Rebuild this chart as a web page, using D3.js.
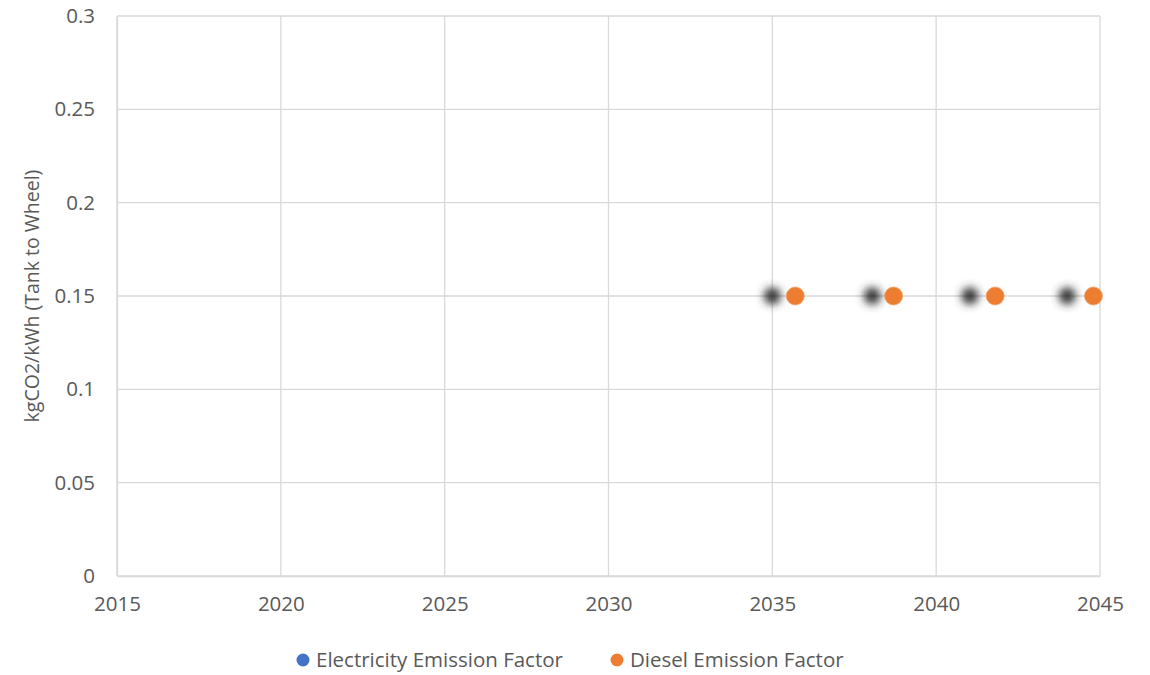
<!DOCTYPE html>
<html>
<head>
<meta charset="utf-8">
<script src="https://cdn.jsdelivr.net/npm/d3@7"></script>
<style>
  body { margin: 0; background: #fff; }
  text { font-family: "Open Sans", sans-serif; fill: #595959; }
</style>
</head>
<body>
<div id="chart"></div>
<script>
// emission factors scatter
var seriesNames = ["Electricity Emission Factor", "Diesel Emission Factor"];
var electricityYears = [2035, 2038.05, 2041.03, 2044];
var electricityValues = [0.15, 0.15, 0.15, 0.15];
var dieselYears = [2035.7, 2038.7, 2041.8, 2044.8];
var dieselValues = [0.15, 0.15, 0.15, 0.15];
var xTicks = [2015, 2020, 2025, 2030, 2035, 2040, 2045];
var yTicks = [0, 0.05, 0.1, 0.15, 0.2, 0.25, 0.3];

var width = 1150, height = 675;
var margin = {top: 16, right: 50, bottom: 99, left: 117};

var svg = d3.select("#chart").append("svg")
	.attr("width", width)
	.attr("height", height);

var defs = svg.append("defs");
defs.append("filter")
	.attr("id", "blur")
	.attr("x", "-100%").attr("y", "-100%")
	.attr("width", "300%").attr("height", "300%")
	.append("feGaussianBlur")
	.attr("stdDeviation", 4.5);

var x = d3.scaleLinear().domain([2015, 2045]).range([margin.left, width - margin.right]);
var y = d3.scaleLinear().domain([0, 0.3]).range([height - margin.bottom, margin.top]);

// gridlines
svg.append("g")
	.selectAll("line.h")
	.data(yTicks)
	.enter().append("line")
	.attr("x1", x(2015)).attr("x2", x(2045))
	.attr("y1", d => y(d)).attr("y2", d => y(d))
	.attr("stroke", "#d9d9d9").attr("stroke-width", 1.3);

svg.append("g")
	.selectAll("line.v")
	.data(xTicks)
	.enter().append("line")
	.attr("x1", d => x(d)).attr("x2", d => x(d))
	.attr("y1", y(0)).attr("y2", y(0.3))
	.attr("stroke", "#d9d9d9").attr("stroke-width", 1.3);

// axes
var xAxis = svg.append("g")
	.attr("transform", "translate(0," + y(0) + ")")
	.call(d3.axisBottom(x).tickValues(xTicks).tickFormat(d3.format("d")).tickSize(0).tickPadding(20));
var yAxis = svg.append("g")
	.attr("transform", "translate(" + x(2015) + ",0)")
	.call(d3.axisLeft(y).tickValues(yTicks).tickFormat(d => d === 0 ? "0" : String(d)).tickSize(0).tickPadding(22));

[xAxis, yAxis].forEach(function(a) {
	a.select(".domain").attr("stroke", "#d9d9d9").attr("stroke-width", 1.3);
	a.selectAll("text").style("font-size", "20.5px").attr("fill", "#595959")
		.style("font-family", "'Open Sans', sans-serif");
});

svg.append("text")
	.attr("transform", "translate(39," + y(0.15) + ") rotate(-90)")
	.attr("text-anchor", "middle")
	.style("font-size", "19.5px")
	.text("kgCO2/kWh (Tank to Wheel)");

// electricity points (shown as blurred shadow)
svg.append("g")
	.selectAll("circle")
	.data(electricityYears)
	.enter().append("circle")
	.attr("cx", d => x(d))
	.attr("cy", (d, i) => y(electricityValues[i]))
	.attr("r", 8.5)
	.attr("fill", "#333")
	.attr("filter", "url(#blur)");

// diesel points
svg.append("g")
	.selectAll("circle")
	.data(dieselYears)
	.enter().append("circle")
	.attr("cx", d => x(d))
	.attr("cy", (d, i) => y(dieselValues[i]))
	.attr("r", 9)
	.attr("fill", "#ed7d31")
	.attr("stroke", "#f4a06a")
	.attr("stroke-width", 0.8);

// legend
var legendColors = ["#4472c4", "#ed7d31"];
var legendX = [303, 617];
var legend = svg.append("g")
	.selectAll("g")
	.data(seriesNames)
	.enter().append("g")
	.attr("transform", (d, i) => "translate(" + legendX[i] + ",660)");
legend.append("circle").attr("r", 6.5).attr("fill", (d, i) => legendColors[i]);
legend.append("text")
	.attr("x", 13).attr("dy", "0.35em")
	.style("font-size", "20.5px")
	.text(d => d);
</script>
</body>
</html>
